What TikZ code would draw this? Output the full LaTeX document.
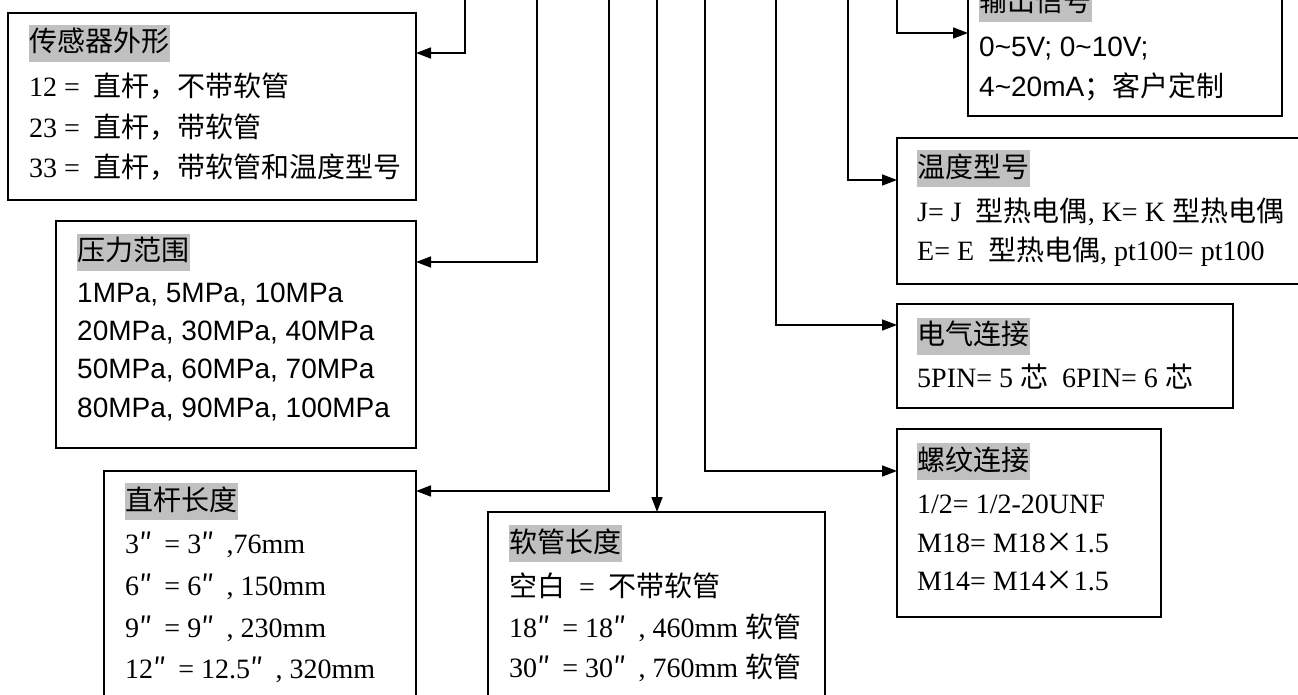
\documentclass[tikz,border=0pt]{standalone}
\usepackage{fontspec}
\setmainfont{Liberation Serif}
\newfontfamily\sa{Liberation Sans}
\newfontfamily\cj{Noto Sans CJK SC}
\usetikzlibrary{arrows.meta}
\definecolor{hl}{RGB}{192,192,192}
\newcommand{\dpr}{{\cj ″}\kern12pt}
\tikzset{
  boxn/.style={draw, line width=1.6pt, rectangle, inner sep=0pt, outer sep=0pt, anchor=north west},
  hdr/.style={fill=hl, inner xsep=0.5pt, inner ysep=0pt, text height=27pt, text depth=10pt, anchor=west, font=\fontsize{28}{33}\selectfont\cj},
  txt/.style={inner sep=0pt, anchor=base west, font=\fontsize{28}{33}\selectfont},
  stxt/.style={txt, font=\fontsize{28}{33}\selectfont\sa},
  conn/.style={line width=1.6pt, -{Triangle[length=15pt,width=11pt]}},
}
\begin{document}
\begin{tikzpicture}[x=1pt,y=-1pt]
\useasboundingbox (0,0) rectangle (1298,695);
\clip (0,0) rectangle (1298,695);
% boxes
\node[boxn, minimum width=408pt, minimum height=187pt] (A) at (8,13) {};
\node[boxn, minimum width=360pt, minimum height=227pt] (B) at (56,221) {};
\node[boxn, minimum width=312pt, minimum height=260pt] (C) at (104,471) {};
\node[boxn, minimum width=337pt, minimum height=220pt] (D) at (488,512) {};
\node[boxn, minimum width=264pt, minimum height=188pt] (E) at (897,429) {};
\node[boxn, minimum width=336pt, minimum height=104pt] (F) at (897,304) {};
\node[boxn, minimum width=423pt, minimum height=146pt] (G) at (897,138) {};
\node[boxn, minimum width=314pt, minimum height=146pt] (H) at (968,-30) {};
% connector sources
\coordinate (tA) at (465,-5);
\coordinate (tB) at (537,-5);
\coordinate (tC) at (609,-5);
\coordinate (tD) at (657,-5);
\coordinate (tE) at (705,-5);
\coordinate (tF) at (776,-5);
\coordinate (tG) at (848,-5);
\coordinate (tH) at (897,-5);
\draw[conn] (tA) |- ([yshift=-40pt]A.north east);
\draw[conn] (tB) |- ([yshift=-41pt]B.north east);
\draw[conn] (tC) |- ([yshift=-20pt]C.north east);
\draw[conn] (tD) -- (tD |- D.north);
\draw[conn] (tE) |- ([yshift=-42pt]E.north west);
\draw[conn] (tF) |- ([yshift=-21pt]F.north west);
\draw[conn] (tG) |- ([yshift=-42pt]G.north west);
\draw[conn] (tH) |- ([yshift=-63pt]H.north west);
% A
\node[hdr] (hA) at (29,43.5) {传感器外形};
\node[txt] (A1) at (29,97) {12 =\ \ {\cj 直杆，不带软管}};
\node[txt] (A2) at (29,138) {23 =\ \ {\cj 直杆，带软管}};
\node[txt] (A3) at (29,178) {33 =\ \ {\cj 直杆，带软管和温度型号}};
% B
\node[hdr] (hB) at (77,252) {压力范围};
\node[stxt] (B1) at (77,302) {1MPa, 5MPa, 10MPa};
\node[stxt] (B2) at (77,340) {20MPa, 30MPa, 40MPa};
\node[stxt] (B3) at (77,378) {50MPa, 60MPa, 70MPa};
\node[stxt] (B4) at (77,417) {80MPa, 90MPa, 100MPa};
% C
\node[hdr] (hC) at (125,501.5) {直杆长度};
\node[txt] (C1) at (125,553) {3\dpr= 3\dpr,76mm};
\node[txt] (C2) at (125,595) {6\dpr= 6\dpr, 150mm};
\node[txt] (C3) at (125,637) {9\dpr= 9\dpr, 230mm};
\node[txt] (C4) at (125,678) {12\dpr= 12.5\dpr, 320mm};
% D
\node[hdr] (hD) at (509,543.5) {软管长度};
\node[txt] (D1) at (509,596) {{\cj 空白}\ \ =\ \ {\cj 不带软管}};
\node[txt] (D2) at (509,637) {18\dpr= 18\dpr, 460mm {\cj 软管}};
\node[txt] (D3) at (509,677) {30\dpr= 30\dpr, 760mm {\cj 软管}};
% E
\node[hdr] (hE) at (917,461.5) {螺纹连接};
\node[txt] (E1) at (917,513) {1/2= 1/2-20UNF};
\node[txt] (E2) at (917,552) {M18= M18{\cj ×}1.5};
\node[txt] (E3) at (917,590) {M14= M14{\cj ×}1.5};
% F
\node[hdr] (hF) at (917,336) {电气连接};
\node[txt] (F1) at (917,387) {5PIN= 5 {\cj 芯}\ \ 6PIN= 6 {\cj 芯}};
% G
\node[hdr] (hG) at (917,169) {温度型号};
\node[txt] (G1) at (917,222) {J= J\ \ {\cj 型热电偶}, K= K {\cj 型热电偶}};
\node[txt] (G2) at (917,260) {E= E\ \ {\cj 型热电偶}, pt100= pt100};
% H
\node[hdr] (hH) at (979,3.5) {输出信号};
\node[stxt] (H1) at (979,57) {0\textasciitilde5V; 0\textasciitilde10V;};
\node[stxt] (H2) at (979,97) {4\textasciitilde20mA{\cj ；客户定制}};
\end{tikzpicture}
\end{document}
